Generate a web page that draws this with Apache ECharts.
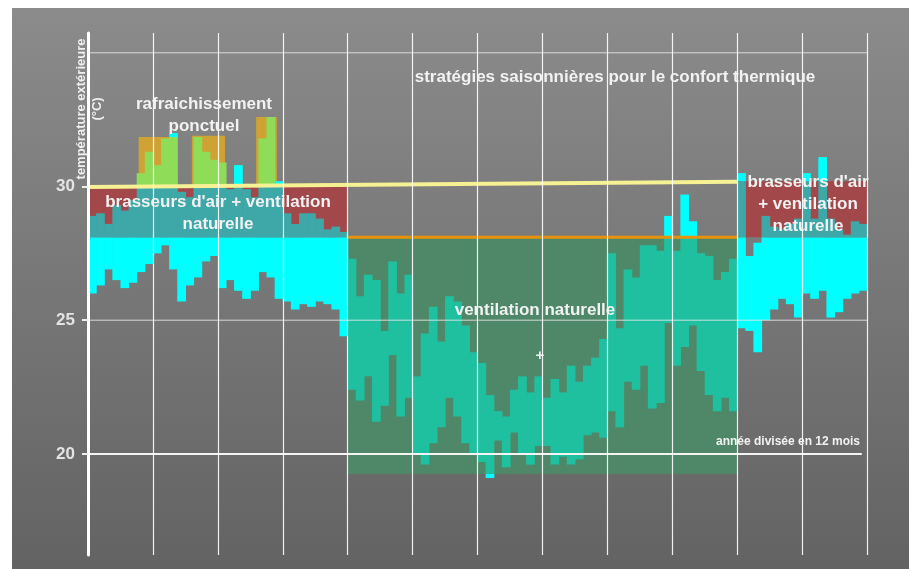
<!DOCTYPE html>
<html><head><meta charset="utf-8">
<script src="https://cdn.jsdelivr.net/npm/echarts@6/dist/echarts.min.js"></script>
<style>html,body{margin:0;padding:0;background:#fff}#c{width:909px;height:569px}</style>
</head><body><div id="c"></div>
<script>
// ---- data (months on x from 0 to 12, 8 bars per month) ----
const barsPerMonth = 8;
const barMax = [
  28.9, 29.0, 28.6, 29.3, 29.1, 29.5, 30.5, 31.3,
  30.8, 31.8, 32.0, 29.8, 29.6, 31.85, 31.3, 31.0,
  30.9, 29.9, 30.8, 29.9, 29.6, 31.8, 32.6, 30.2,
  29.0, 28.6, 29.0, 29.0, 28.8, 28.4, 28.5, 28.3,
  27.3, 25.9, 26.7, 26.5, 24.6, 27.2, 26.0, 26.7,
  22.9, 24.5, 25.5, 24.2, 25.9, 25.7, 24.8, 23.8,
  23.4, 22.2, 21.6, 21.4, 22.4, 22.9, 22.3, 22.9,
  22.1, 22.8, 22.3, 23.3, 22.7, 23.3, 23.6, 24.3,
  27.5, 24.7, 26.9, 26.6, 27.8, 27.8, 27.6, 28.9,
  27.6, 29.7, 28.7, 27.5, 27.4, 26.5, 26.8, 27.3,
  30.5, 27.4, 27.9, 28.9, 28.5, 28.4, 28.6, 28.8,
  30.5, 28.8, 31.1, 28.8, 28.4, 28.2, 28.7, 28.6
];
const barMin = [
  26.0, 26.3, 26.9, 26.5, 26.2, 26.4, 26.8, 27.1,
  27.5, 27.8, 26.9, 25.7, 26.3, 26.6, 27.2, 27.4,
  26.2, 26.5, 26.1, 25.8, 26.1, 26.8, 26.6, 25.8,
  25.7, 25.4, 25.6, 25.5, 25.7, 25.6, 25.4, 24.4,
  22.4, 22.0, 22.9, 21.2, 21.8, 23.7, 21.4, 22.1,
  20.0, 19.6, 20.4, 21.0, 22.1, 21.4, 20.4, 20.0,
  19.7, 19.1, 20.5, 19.5, 20.8, 20.0, 19.6, 20.3,
  20.3, 19.6, 19.9, 19.6, 19.8, 20.7, 20.8, 20.6,
  21.6, 21.0, 22.7, 22.4, 23.3, 21.7, 21.9, 24.9,
  23.3, 24.0, 24.8, 23.1, 22.2, 21.6, 22.1, 21.6,
  24.7, 24.6, 23.8, 25.0, 25.4, 25.8, 25.6, 25.1,
  26.0, 25.8, 26.1, 25.1, 25.3, 25.8, 26.0, 26.1
];
const yTicks = [20, 25, 30];
const gridLevels = [20, 25, 35];
// zones: [monthStart, monthEnd, tempLow, tempHigh]
const ventZone = [[4, 10, 19.25, 28.1]];
const brasseursZones = [[0, 4, 28.1, 30.0], [10, 12, 28.1, 30.2]];
const rafraichZones = [[0.78, 1.375, 30, 31.85], [1.60, 2.11, 30, 31.9], [2.59, 2.91, 30, 32.6]];
const seuilHaut = [[0, 29.98], [10, 30.18]];
const seuilBas = [[4, 28.1], [10, 28.1]];

const C = {
  cyan: '#00FFFF', teal: '#1FC0A0', steel: '#3EA7A8', lightGreen: '#8EDC58',
  red: '#A3484A', green: '#4F8868', orange: '#CFA234', yellow: '#F6F193', orangeLine: '#E8920E'
};

function zoneRender(color) {
  return function (params, api) {
    const p0 = api.coord([api.value(0), api.value(3)]);
    const p1 = api.coord([api.value(1), api.value(2)]);
    return { type: 'rect', shape: { x: p0[0], y: p0[1], width: p1[0] - p0[0], height: p1[1] - p0[1] }, style: { fill: color } };
  };
}

function barRender(params, api) {
  const xa = api.value(0), lo = api.value(1), hi = api.value(2);
  const xb = xa + 1 / barsPerMonth, xc = (xa + xb) / 2;
  const layers = [];
  ventZone.forEach(z => { if (xc >= z[0] && xc < z[1]) layers.push([z[2], z[3], C.teal]); });
  brasseursZones.forEach(z => { if (xc >= z[0] && xc < z[1]) layers.push([z[2], z[3], C.steel]); });
  rafraichZones.forEach(z => { if (xc >= z[0] && xc < z[1]) layers.push([z[2], z[3], C.lightGreen]); });
  const cuts = [lo, hi];
  layers.forEach(l => { [l[0], l[1]].forEach(v => { if (v > lo && v < hi) cuts.push(v); }); });
  cuts.sort((a, b) => a - b);
  const children = [];
  for (let k = 0; k < cuts.length - 1; k++) {
    const a = cuts[k], b = cuts[k + 1];
    if (b <= a) continue;
    const m = (a + b) / 2;
    let col = C.cyan;
    layers.forEach(l => { if (m >= l[0] && m <= l[1]) col = l[2]; });
    const p0 = api.coord([xa, b]), p1 = api.coord([xb, a]);
    children.push({ type: 'rect', shape: { x: p0[0], y: p0[1], width: p1[0] - p0[0] + 0.6, height: p1[1] - p0[1] }, style: { fill: col } });
  }
  return { type: 'group', children };
}

const barData = barMax.map((v, i) => [i / barsPerMonth, barMin[i], v]);

const FONT = 'Liberation Sans, Arial, sans-serif';
function txt(text, x, y, size, extra) {
  return Object.assign({
    type: 'text', x: x, y: y, z: 100,
    style: { text: text, fill: '#F2F2F2', font: 'bold ' + size + 'px ' + FONT,
      align: 'center', verticalAlign: 'middle', textAlign: 'center', textVerticalAlign: 'middle', lineHeight: 22 }
  }, extra || {});
}

const hLineSeries = gridLevels.map(v => ({
  type: 'line', z: 9, symbol: 'none', silent: true,
  data: [[0, v], [v === 20 ? 11.92 : 12, v]],
  lineStyle: v === 20 ? { color: '#F4F4F4', width: 2 } : { color: 'rgba(232,232,232,0.85)', width: 1 }
}));

const chart = echarts.init(document.getElementById('c'), null, { renderer: 'canvas' });
chart.setOption({
  animation: false,
  backgroundColor: '#ffffff',
  grid: { left: 88, right: 42, top: 33, bottom: 14 },
  xAxis: {
    type: 'value', min: 0, max: 12, interval: 1, z: 10,
    axisLine: { show: false }, axisTick: { show: false }, axisLabel: { show: false },
    splitLine: { show: true, lineStyle: { color: 'rgba(255,255,255,0.9)', width: 1.2 } }
  },
  yAxis: {
    type: 'value', min: 16.22, max: 35.74, z: 11,
    axisLine: { show: true, lineStyle: { color: '#FFFFFF', width: 3 } },
    axisTick: { show: true, customValues: yTicks, length: 6, lineStyle: { color: '#EEEEEE', width: 2 } },
    axisLabel: { customValues: yTicks, color: '#E4E4E4', fontSize: 17, fontWeight: 'bold', fontFamily: FONT, margin: 13 },
    splitLine: { show: false }
  },
  graphic: [
    { type: 'rect', z: -10, shape: { x: 12, y: 8, width: 897, height: 561 },
      style: { fill: new echarts.graphic.LinearGradient(0, 0, 0, 1, [{ offset: 0, color: '#8B8B8B' }, { offset: 1, color: '#636363' }]) } },
    txt('stratégies saisonnières pour le confort thermique', 615, 77, 17),
    txt('rafraichissement\nponctuel', 204, 115, 17),
    txt('brasseurs d\'air + ventilation\nnaturelle', 218, 213, 17),
    txt('brasseurs d\'air\n+ ventilation\nnaturelle', 808, 204, 17),
    txt('ventilation naturelle', 535, 310, 17),
    txt('+', 540, 356, 15),
    txt('année divisée en 12 mois', 788, 442, 12, {}),
    { type: 'text', x: 89, y: 109, rotation: Math.PI / 2, z: 100,
      style: { text: 'température extérieure\n(°C)', fill: '#F0F0F0', font: 'bold 13px ' + FONT,
        align: 'center', verticalAlign: 'middle', textAlign: 'center', textVerticalAlign: 'middle', lineHeight: 16 } }
  ],
  series: [
    { type: 'custom', z: 1, silent: true, renderItem: zoneRender(C.red), encode: { x: [0, 1], y: [2, 3] }, data: brasseursZones },
    { type: 'custom', z: 1, silent: true, renderItem: zoneRender(C.green), encode: { x: [0, 1], y: [2, 3] }, data: ventZone },
    { type: 'custom', z: 1, silent: true, renderItem: zoneRender(C.orange), encode: { x: [0, 1], y: [2, 3] }, data: rafraichZones },
    { type: 'custom', z: 2, silent: true, renderItem: barRender, encode: { x: 0, y: [1, 2] }, data: barData },
    { type: 'line', z: 6, symbol: 'none', silent: true, data: seuilHaut, lineStyle: { color: C.yellow, width: 4 } },
    { type: 'line', z: 6, symbol: 'none', silent: true, data: seuilBas, lineStyle: { color: C.orangeLine, width: 3 } }
  ].concat(hLineSeries)
});
</script></body></html>
